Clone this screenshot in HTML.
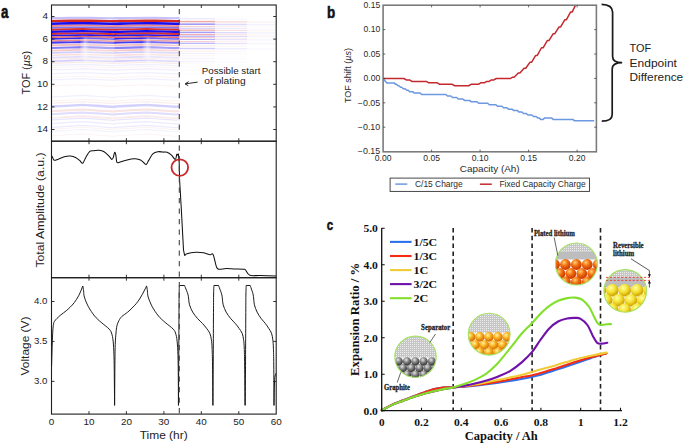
<!DOCTYPE html><html><head><meta charset="utf-8"><style>html,body{margin:0;padding:0;background:#fff;}svg{display:block;}</style></head><body><svg width="685" height="444" viewBox="0 0 685 444"><rect width="685" height="444" fill="#fff"/><defs><clipPath id="clipT"><rect x="51.5" y="5" width="224.7" height="136.2"/></clipPath><filter id="blur1" x="-5%" y="-5%" width="110%" height="110%"><feGaussianBlur stdDeviation="0.45"/></filter><filter id="blur3" x="-50%" y="-50%" width="200%" height="200%"><feGaussianBlur stdDeviation="2.2"/></filter><pattern id="dots" width="2" height="2" patternUnits="userSpaceOnUse"><rect width="2" height="2" fill="#c6c6c6"/><rect width="1" height="1" fill="#ececec"/></pattern><radialGradient id="gball" cx="0.4" cy="0.3" r="0.72"><stop offset="0" stop-color="#e8e8e8"/><stop offset="0.4" stop-color="#8a8a8a"/><stop offset="1" stop-color="#262626"/></radialGradient><radialGradient id="oball" cx="0.38" cy="0.32" r="0.7"><stop offset="0" stop-color="#fff4a0"/><stop offset="0.45" stop-color="#f8b020"/><stop offset="1" stop-color="#d06000"/></radialGradient><radialGradient id="rball" cx="0.38" cy="0.32" r="0.7"><stop offset="0" stop-color="#ffd070"/><stop offset="0.45" stop-color="#f07010"/><stop offset="1" stop-color="#c83000"/></radialGradient><radialGradient id="yball" cx="0.38" cy="0.32" r="0.7"><stop offset="0" stop-color="#ffffa0"/><stop offset="0.5" stop-color="#f4e030"/><stop offset="1" stop-color="#c89800"/></radialGradient></defs>
<g clip-path="url(#clipT)"><g filter="url(#blur1)"><path d="M51.50,18.19 L60.00,18.08 L70.00,17.94 L82.80,17.77 L90.00,17.89 L100.00,18.06 L110.00,18.23 L114.50,18.31 L114.70,18.20 L120.00,18.13 L130.00,17.99 L146.60,17.77 L155.00,17.91 L165.00,18.08 L175.00,18.25 L179.40,18.20" stroke="rgb(197,193,251)" stroke-width="2.20" fill="none"/><path d="M51.50,21.09 L60.00,20.96 L70.00,20.82 L82.80,20.63 L90.00,20.76 L100.00,20.95 L110.00,21.13 L114.50,21.22 L114.70,21.10 L120.00,21.02 L130.00,20.87 L146.60,20.63 L155.00,20.78 L165.00,20.97 L175.00,21.15 L179.40,21.10" stroke="rgb(214,40,36)" stroke-width="2.40" fill="none"/><path d="M51.50,23.69 L60.00,23.55 L70.00,23.39 L82.80,23.19 L90.00,23.33 L100.00,23.54 L110.00,23.74 L114.50,23.83 L114.70,23.70 L120.00,23.61 L130.00,23.45 L146.60,23.19 L155.00,23.36 L165.00,23.56 L175.00,23.76 L179.40,23.70" stroke="rgb(24,8,240)" stroke-width="2.60" fill="none"/><path d="M51.50,25.99 L60.00,25.84 L70.00,25.67 L82.80,25.46 L90.00,25.61 L100.00,25.82 L110.00,26.04 L114.50,26.13 L114.70,26.00 L120.00,25.91 L130.00,25.74 L146.60,25.46 L155.00,25.64 L165.00,25.85 L175.00,26.06 L179.40,26.00" stroke="rgb(232,137,135)" stroke-width="1.80" fill="none"/><path d="M51.50,27.79 L60.00,27.64 L70.00,27.46 L82.80,27.23 L90.00,27.39 L100.00,27.62 L110.00,27.84 L114.50,27.94 L114.70,27.80 L120.00,27.70 L130.00,27.53 L146.60,27.23 L155.00,27.42 L165.00,27.64 L175.00,27.86 L179.40,27.80" stroke="rgb(128,119,247)" stroke-width="1.70" fill="none"/><path d="M51.50,29.69 L60.00,29.53 L70.00,29.34 L82.80,29.10 L90.00,29.27 L100.00,29.51 L110.00,29.74 L114.50,29.85 L114.70,29.70 L120.00,29.60 L130.00,29.41 L146.60,29.10 L155.00,29.30 L165.00,29.53 L175.00,29.77 L179.40,29.70" stroke="rgb(216,51,47)" stroke-width="2.00" fill="none"/><path d="M51.50,31.89 L60.00,31.72 L70.00,31.52 L82.80,31.27 L90.00,31.45 L100.00,31.70 L110.00,31.94 L114.50,32.05 L114.70,31.90 L120.00,31.79 L130.00,31.60 L146.60,31.27 L155.00,31.48 L165.00,31.72 L175.00,31.97 L179.40,31.90" stroke="rgb(24,8,240)" stroke-width="2.30" fill="none"/><path d="M51.50,33.99 L60.00,33.81 L70.00,33.61 L82.80,33.34 L90.00,33.53 L100.00,33.79 L110.00,34.05 L114.50,34.16 L114.70,34.00 L120.00,33.89 L130.00,33.68 L146.60,33.34 L155.00,33.56 L165.00,33.82 L175.00,34.07 L179.40,34.00" stroke="rgb(216,51,47)" stroke-width="1.90" fill="none"/><path d="M51.50,35.69 L60.00,35.50 L70.00,35.29 L82.80,35.02 L90.00,35.21 L100.00,35.48 L110.00,35.75 L114.50,35.87 L114.70,35.70 L120.00,35.58 L130.00,35.37 L146.60,35.02 L155.00,35.24 L165.00,35.51 L175.00,35.77 L179.40,35.70" stroke="rgb(36,20,241)" stroke-width="1.70" fill="none"/><path d="M51.50,37.28 L60.00,37.10 L70.00,36.88 L82.80,36.59 L90.00,36.79 L100.00,37.07 L110.00,37.35 L114.50,37.47 L114.70,37.30 L120.00,37.18 L130.00,36.96 L146.60,36.59 L155.00,36.83 L165.00,37.10 L175.00,37.38 L179.40,37.30" stroke="rgb(224,94,91)" stroke-width="1.50" fill="none"/><path d="M51.50,38.88 L60.00,38.69 L70.00,38.46 L82.80,38.17 L90.00,38.38 L100.00,38.66 L110.00,38.95 L114.50,39.08 L114.70,38.90 L120.00,38.78 L130.00,38.55 L146.60,38.17 L155.00,38.41 L165.00,38.70 L175.00,38.98 L179.40,38.90" stroke="rgb(52,38,242)" stroke-width="1.60" fill="none"/><path d="M51.50,40.98 L60.00,40.78 L70.00,40.54 L82.80,40.24 L90.00,40.46 L100.00,40.75 L110.00,41.05 L114.50,41.19 L114.70,41.00 L120.00,40.87 L130.00,40.64 L146.60,40.24 L155.00,40.49 L165.00,40.79 L175.00,41.08 L179.40,41.00" stroke="rgb(232,137,135)" stroke-width="1.70" fill="none"/><path d="M51.50,42.78 L60.00,42.57 L70.00,42.33 L82.80,42.02 L90.00,42.24 L100.00,42.55 L110.00,42.85 L114.50,42.99 L114.70,42.80 L120.00,42.67 L130.00,42.42 L146.60,42.02 L155.00,42.27 L165.00,42.58 L175.00,42.89 L179.40,42.80" stroke="rgb(70,57,243)" stroke-width="1.90" fill="none"/><path d="M51.50,45.38 L60.00,45.16 L70.00,44.91 L82.80,44.58 L90.00,44.81 L100.00,45.13 L110.00,45.46 L114.50,45.60 L114.70,45.40 L120.00,45.26 L130.00,45.00 L146.60,44.58 L155.00,44.85 L165.00,45.17 L175.00,45.49 L179.40,45.40" stroke="rgb(242,186,185)" stroke-width="1.70" fill="none"/><path d="M51.50,47.98 L60.00,47.75 L70.00,47.48 L82.80,47.14 L90.00,47.38 L100.00,47.72 L110.00,48.06 L114.50,48.21 L114.70,48.00 L120.00,47.86 L130.00,47.59 L146.60,47.14 L155.00,47.42 L165.00,47.76 L175.00,48.09 L179.40,48.00" stroke="rgb(135,127,247)" stroke-width="2.20" fill="none"/><path d="M51.50,50.58 L60.00,50.34 L70.00,50.06 L82.80,49.70 L90.00,49.96 L100.00,50.31 L110.00,50.66 L114.50,50.82 L114.70,50.60 L120.00,50.45 L130.00,50.17 L146.60,49.70 L155.00,50.00 L165.00,50.35 L175.00,50.70 L179.40,50.60" stroke="rgb(245,201,200)" stroke-width="1.70" fill="none"/><path d="M51.50,52.88 L60.00,52.63 L70.00,52.34 L82.80,51.97 L90.00,52.23 L100.00,52.60 L110.00,52.96 L114.50,53.13 L114.70,52.90 L120.00,52.74 L130.00,52.45 L146.60,51.97 L155.00,52.28 L165.00,52.64 L175.00,53.00 L179.40,52.90" stroke="rgb(209,206,252)" stroke-width="1.70" fill="none"/><path d="M51.50,55.28 L60.00,55.02 L70.00,54.72 L82.80,54.34 L90.00,54.61 L100.00,54.99 L110.00,55.37 L114.50,55.54 L114.70,55.30 L120.00,55.14 L130.00,54.84 L146.60,54.34 L155.00,54.65 L165.00,55.03 L175.00,55.41 L179.40,55.30" stroke="rgb(249,223,222)" stroke-width="1.70" fill="none"/><path d="M51.50,57.58 L60.00,57.31 L70.00,57.00 L82.80,56.60 L90.00,56.88 L100.00,57.28 L110.00,57.67 L114.50,57.85 L114.70,57.60 L120.00,57.43 L130.00,57.12 L146.60,56.60 L155.00,56.93 L165.00,57.32 L175.00,57.71 L179.40,57.60" stroke="rgb(223,220,253)" stroke-width="1.70" fill="none"/><path d="M51.50,59.28 L60.00,59.01 L70.00,58.69 L82.80,58.28 L90.00,58.57 L100.00,58.97 L110.00,59.37 L114.50,59.55 L114.70,59.30 L120.00,59.13 L130.00,58.81 L146.60,58.28 L155.00,58.61 L165.00,59.01 L175.00,59.41 L179.40,59.30" stroke="rgb(250,231,231)" stroke-width="1.20" fill="none"/><path d="M51.50,61.28 L60.00,61.00 L70.00,60.67 L82.80,60.25 L90.00,60.55 L100.00,60.96 L110.00,61.37 L114.50,61.56 L114.70,61.30 L120.00,61.12 L130.00,60.79 L146.60,60.25 L155.00,60.59 L165.00,61.00 L175.00,61.41 L179.40,61.30" stroke="rgb(209,206,252)" stroke-width="1.60" fill="none"/><path d="M51.50,63.28 L60.00,62.99 L70.00,62.65 L82.80,62.22 L90.00,62.53 L100.00,62.95 L110.00,63.37 L114.50,63.57 L114.70,63.30 L120.00,63.12 L130.00,62.78 L146.60,62.22 L155.00,62.57 L165.00,63.00 L175.00,63.42 L179.40,63.30" stroke="rgb(251,234,233)" stroke-width="1.30" fill="none"/><path d="M51.50,65.48 L60.00,65.18 L70.00,64.83 L82.80,64.39 L90.00,64.70 L100.00,65.14 L110.00,65.58 L114.50,65.77 L114.70,65.50 L120.00,65.31 L130.00,64.97 L146.60,64.39 L155.00,64.75 L165.00,65.19 L175.00,65.62 L179.40,65.50" stroke="rgb(239,238,254)" stroke-width="1.20" fill="none"/><path d="M51.50,67.58 L60.00,67.27 L70.00,66.92 L82.80,66.46 L90.00,66.78 L100.00,67.23 L110.00,67.68 L114.50,67.88 L114.70,67.60 L120.00,67.41 L130.00,67.05 L146.60,66.46 L155.00,66.83 L165.00,67.28 L175.00,67.72 L179.40,67.60" stroke="rgb(253,242,242)" stroke-width="1.00" fill="none"/><path d="M51.50,69.97 L60.00,69.66 L70.00,69.29 L82.80,68.82 L90.00,69.16 L100.00,69.62 L110.00,70.08 L114.50,70.29 L114.70,70.00 L120.00,69.80 L130.00,69.43 L146.60,68.82 L155.00,69.21 L165.00,69.67 L175.00,70.13 L179.40,70.00" stroke="rgb(239,238,254)" stroke-width="1.20" fill="none"/><path d="M51.50,73.77 L60.00,73.45 L70.00,73.06 L82.80,72.57 L90.00,72.92 L100.00,73.40 L110.00,73.89 L114.50,74.10 L114.70,73.80 L120.00,73.59 L130.00,73.21 L146.60,72.57 L155.00,72.97 L165.00,73.45 L175.00,73.93 L179.40,73.80" stroke="rgb(241,240,254)" stroke-width="1.20" fill="none"/><path d="M51.50,77.47 L60.00,77.13 L70.00,76.73 L82.80,76.22 L90.00,76.58 L100.00,77.08 L110.00,77.59 L114.50,77.82 L114.70,77.50 L120.00,77.28 L130.00,76.88 L146.60,76.22 L155.00,76.64 L165.00,77.14 L175.00,77.64 L179.40,77.50" stroke="rgb(253,245,245)" stroke-width="1.20" fill="none"/><path d="M51.50,79.97 L60.00,79.62 L70.00,79.21 L82.80,78.68 L90.00,79.05 L100.00,79.57 L110.00,80.09 L114.50,80.32 L114.70,80.00 L120.00,79.78 L130.00,79.36 L146.60,78.68 L155.00,79.11 L165.00,79.63 L175.00,80.14 L179.40,80.00" stroke="rgb(241,240,254)" stroke-width="1.20" fill="none"/><path d="M51.50,85.97 L60.00,85.60 L70.00,85.16 L82.80,84.59 L90.00,84.99 L100.00,85.54 L110.00,86.10 L114.50,86.35 L114.70,86.00 L120.00,85.76 L130.00,85.32 L146.60,84.59 L155.00,85.06 L165.00,85.60 L175.00,86.15 L179.40,86.00" stroke="rgb(253,244,244)" stroke-width="1.20" fill="none"/><path d="M51.50,96.97 L60.00,96.55 L70.00,96.06 L82.80,95.44 L90.00,95.88 L100.00,96.49 L110.00,97.11 L114.50,97.39 L114.70,97.00 L120.00,96.74 L130.00,96.25 L146.60,95.44 L155.00,95.95 L165.00,96.56 L175.00,97.17 L179.40,97.00" stroke="rgb(241,240,254)" stroke-width="1.20" fill="none"/><path d="M51.50,100.96 L60.00,100.53 L70.00,100.03 L82.80,99.38 L90.00,99.84 L100.00,100.47 L110.00,101.11 L114.50,101.40 L114.70,100.99 L120.00,100.73 L130.00,100.22 L146.60,99.38 L155.00,99.91 L165.00,100.54 L175.00,101.18 L179.40,101.00" stroke="rgb(253,244,244)" stroke-width="1.20" fill="none"/><path d="M51.50,103.26 L60.00,102.82 L70.00,102.31 L82.80,101.64 L90.00,102.11 L100.00,102.76 L110.00,103.41 L114.50,103.71 L114.70,103.29 L120.00,103.02 L130.00,102.50 L146.60,101.64 L155.00,102.19 L165.00,102.83 L175.00,103.48 L179.40,103.30" stroke="rgb(252,238,237)" stroke-width="1.20" fill="none"/><path d="M51.50,106.56 L60.00,106.11 L70.00,105.58 L82.80,104.90 L90.00,105.38 L100.00,106.05 L110.00,106.72 L114.50,107.02 L114.70,106.59 L120.00,106.31 L130.00,105.78 L146.60,104.90 L155.00,105.46 L165.00,106.12 L175.00,106.79 L179.40,106.60" stroke="rgb(211,208,252)" stroke-width="2.40" fill="none"/><path d="M51.50,111.16 L60.00,110.69 L70.00,110.14 L82.80,109.43 L90.00,109.93 L100.00,110.63 L110.00,111.32 L114.50,111.64 L114.70,111.19 L120.00,110.90 L130.00,110.35 L146.60,109.43 L155.00,110.01 L165.00,110.70 L175.00,111.39 L179.40,111.20" stroke="rgb(250,227,227)" stroke-width="2.00" fill="none"/><path d="M51.50,114.16 L60.00,113.68 L70.00,113.11 L82.80,112.39 L90.00,112.90 L100.00,113.61 L110.00,114.33 L114.50,114.65 L114.70,114.19 L120.00,113.89 L130.00,113.33 L146.60,112.39 L155.00,112.98 L165.00,113.69 L175.00,114.40 L179.40,114.20" stroke="rgb(223,220,253)" stroke-width="2.00" fill="none"/><path d="M51.50,117.96 L60.00,117.46 L70.00,116.88 L82.80,116.13 L90.00,116.66 L100.00,117.40 L110.00,118.13 L114.50,118.46 L114.70,117.99 L120.00,117.68 L130.00,117.10 L146.60,116.13 L155.00,116.75 L165.00,117.47 L175.00,118.20 L179.40,118.00" stroke="rgb(251,234,233)" stroke-width="1.60" fill="none"/><path d="M51.50,119.96 L60.00,119.45 L70.00,118.86 L82.80,118.10 L90.00,118.64 L100.00,119.39 L110.00,120.13 L114.50,120.47 L114.70,119.99 L120.00,119.68 L130.00,119.09 L146.60,118.10 L155.00,118.73 L165.00,119.47 L175.00,120.21 L179.40,120.00" stroke="rgb(232,230,254)" stroke-width="1.20" fill="none"/><path d="M51.50,123.56 L60.00,123.04 L70.00,122.43 L82.80,121.65 L90.00,122.20 L100.00,122.97 L110.00,123.73 L114.50,124.08 L114.70,123.59 L120.00,123.27 L130.00,122.66 L146.60,121.65 L155.00,122.29 L165.00,123.05 L175.00,123.81 L179.40,123.60" stroke="rgb(237,235,254)" stroke-width="1.20" fill="none"/><path d="M51.50,127.36 L60.00,126.82 L70.00,126.20 L82.80,125.40 L90.00,125.96 L100.00,126.75 L110.00,127.54 L114.50,127.89 L114.70,127.39 L120.00,127.06 L130.00,126.44 L146.60,125.40 L155.00,126.05 L165.00,126.84 L175.00,127.62 L179.40,127.40" stroke="rgb(237,235,254)" stroke-width="1.20" fill="none"/><path d="M51.50,129.26 L60.00,128.72 L70.00,128.08 L82.80,127.27 L90.00,127.84 L100.00,128.64 L110.00,129.44 L114.50,129.80 L114.70,129.29 L120.00,128.96 L130.00,128.32 L146.60,127.27 L155.00,127.94 L165.00,128.73 L175.00,129.52 L179.40,129.30" stroke="rgb(253,242,242)" stroke-width="1.00" fill="none"/><path d="M51.50,131.45 L60.00,130.91 L70.00,130.26 L82.80,129.44 L90.00,130.02 L100.00,130.83 L110.00,131.64 L114.50,132.01 L114.70,131.49 L120.00,131.15 L130.00,130.51 L146.60,129.44 L155.00,130.11 L165.00,130.92 L175.00,131.73 L179.40,131.50" stroke="rgb(243,243,254)" stroke-width="1.20" fill="none"/><path d="M51.50,135.95 L60.00,135.39 L70.00,134.72 L82.80,133.87 L90.00,134.48 L100.00,135.31 L110.00,136.15 L114.50,136.52 L114.70,135.99 L120.00,135.64 L130.00,134.98 L146.60,133.87 L155.00,134.57 L165.00,135.40 L175.00,136.23 L179.40,136.00" stroke="rgb(253,246,246)" stroke-width="1.20" fill="none"/><rect x="179.4" y="18.02" width="35.6" height="1.36" fill="rgb(237,235,254)"/><rect x="179.4" y="20.86" width="35.6" height="1.49" fill="rgb(239,169,167)"/><rect x="179.4" y="23.39" width="35.6" height="1.61" fill="rgb(163,156,249)"/><rect x="179.4" y="25.94" width="35.6" height="1.12" fill="rgb(246,208,207)"/><rect x="179.4" y="27.77" width="35.6" height="1.05" fill="rgb(204,201,252)"/><rect x="179.4" y="29.58" width="35.6" height="1.24" fill="rgb(239,173,172)"/><rect x="179.4" y="31.69" width="35.6" height="1.43" fill="rgb(163,156,249)"/><rect x="179.4" y="33.91" width="35.6" height="1.18" fill="rgb(239,173,172)"/><rect x="179.4" y="35.67" width="35.6" height="1.05" fill="rgb(167,161,249)"/><rect x="179.4" y="37.33" width="35.6" height="0.93" fill="rgb(243,190,189)"/><rect x="179.4" y="38.90" width="35.6" height="0.99" fill="rgb(174,168,250)"/><rect x="179.4" y="40.97" width="35.6" height="1.05" fill="rgb(246,208,207)"/><rect x="179.4" y="42.71" width="35.6" height="1.18" fill="rgb(181,176,250)"/><rect x="179.4" y="45.37" width="35.6" height="1.05" fill="rgb(251,233,233)"/><rect x="179.4" y="47.82" width="35.6" height="1.36" fill="rgb(207,204,252)"/><rect x="179.4" y="50.57" width="35.6" height="1.05" fill="rgb(252,238,237)"/><rect x="179.4" y="52.87" width="35.6" height="1.05" fill="rgb(240,239,254)"/><rect x="179.4" y="55.27" width="35.6" height="1.05" fill="rgb(253,245,244)"/><rect x="179.4" y="57.57" width="35.6" height="1.05" fill="rgb(245,244,254)"/><rect x="179.4" y="59.43" width="35.6" height="0.74" fill="rgb(254,247,247)"/><rect x="179.4" y="61.30" width="35.6" height="0.99" fill="rgb(240,239,254)"/><rect x="179.4" y="63.40" width="35.6" height="0.81" fill="rgb(254,248,248)"/><rect x="179.4" y="65.63" width="35.6" height="0.74" fill="rgb(250,249,255)"/><rect x="179.4" y="67.79" width="35.6" height="0.62" fill="rgb(254,251,251)"/><rect x="179.4" y="70.13" width="35.6" height="0.74" fill="rgb(250,249,255)"/><rect x="179.4" y="73.93" width="35.6" height="0.74" fill="rgb(251,250,255)"/><rect x="215.0" y="18.32" width="32.0" height="1.36" fill="rgb(248,248,255)"/><rect x="215.0" y="21.16" width="32.0" height="1.49" fill="rgb(249,223,222)"/><rect x="215.0" y="23.69" width="32.0" height="1.61" fill="rgb(220,218,253)"/><rect x="215.0" y="26.24" width="32.0" height="1.12" fill="rgb(252,237,237)"/><rect x="215.0" y="28.07" width="32.0" height="1.05" fill="rgb(236,235,254)"/><rect x="215.0" y="29.88" width="32.0" height="1.24" fill="rgb(249,224,224)"/><rect x="215.0" y="31.99" width="32.0" height="1.43" fill="rgb(220,218,253)"/><rect x="215.0" y="34.21" width="32.0" height="1.18" fill="rgb(249,224,224)"/><rect x="215.0" y="35.97" width="32.0" height="1.05" fill="rgb(222,220,253)"/><rect x="215.0" y="37.63" width="32.0" height="0.93" fill="rgb(250,231,230)"/><rect x="215.0" y="39.20" width="32.0" height="0.99" fill="rgb(225,222,253)"/><rect x="215.0" y="41.27" width="32.0" height="1.05" fill="rgb(252,237,237)"/><rect x="215.0" y="43.01" width="32.0" height="1.18" fill="rgb(227,225,253)"/><rect x="215.0" y="45.67" width="32.0" height="1.05" fill="rgb(253,247,247)"/><rect x="215.0" y="48.12" width="32.0" height="1.36" fill="rgb(237,236,254)"/><rect x="215.0" y="50.87" width="32.0" height="1.05" fill="rgb(254,249,248)"/><rect x="215.0" y="53.17" width="32.0" height="1.05" fill="rgb(249,249,255)"/><rect x="215.0" y="55.57" width="32.0" height="1.05" fill="rgb(254,251,251)"/><rect x="215.0" y="57.87" width="32.0" height="1.05" fill="rgb(251,251,255)"/><rect x="215.0" y="61.60" width="32.0" height="0.99" fill="rgb(249,249,255)"/><rect x="247.0" y="21.36" width="29.2" height="1.49" fill="rgb(253,244,244)"/><rect x="247.0" y="23.89" width="29.2" height="1.61" fill="rgb(243,243,254)"/><rect x="247.0" y="26.44" width="29.2" height="1.12" fill="rgb(254,249,249)"/><rect x="247.0" y="28.27" width="29.2" height="1.05" fill="rgb(249,248,255)"/><rect x="247.0" y="30.08" width="29.2" height="1.24" fill="rgb(253,245,245)"/><rect x="247.0" y="32.19" width="29.2" height="1.43" fill="rgb(243,243,254)"/><rect x="247.0" y="34.41" width="29.2" height="1.18" fill="rgb(253,245,245)"/><rect x="247.0" y="36.17" width="29.2" height="1.05" fill="rgb(244,243,254)"/><rect x="247.0" y="37.83" width="29.2" height="0.93" fill="rgb(253,247,247)"/><rect x="247.0" y="39.40" width="29.2" height="0.99" fill="rgb(245,244,254)"/><rect x="247.0" y="41.47" width="29.2" height="1.05" fill="rgb(254,249,249)"/><rect x="247.0" y="43.21" width="29.2" height="1.18" fill="rgb(246,245,254)"/><rect x="247.0" y="48.32" width="29.2" height="1.36" fill="rgb(249,249,255)"/></g>
<rect x="84.3" y="37.5" width="30.3" height="26" fill="#fff" opacity="0.28" filter="url(#blur1)"/>
<ellipse cx="84.3" cy="49" rx="2.0" ry="12" fill="#fff" opacity="0.9" filter="url(#blur3)"/>
<rect x="146.8" y="37.5" width="32.5" height="26" fill="#fff" opacity="0.28" filter="url(#blur1)"/>
<ellipse cx="146.8" cy="49" rx="2.0" ry="12" fill="#fff" opacity="0.9" filter="url(#blur3)"/>
</g>
<path d="M51.50,156.00 C51.62,156.10 51.77,155.90 52.20,156.60 C52.63,157.30 53.10,159.77 54.10,160.20 C55.10,160.63 56.33,159.82 58.20,159.20 C60.07,158.58 63.27,157.02 65.30,156.50 C67.33,155.98 68.70,155.95 70.40,156.10 C72.10,156.25 73.97,156.68 75.50,157.40 C77.03,158.12 78.40,159.42 79.60,160.40 C80.80,161.38 81.67,163.80 82.70,163.30 C83.73,162.80 84.62,159.38 85.80,157.40 C86.98,155.42 88.45,152.52 89.80,151.40 C91.15,150.28 92.37,150.90 93.90,150.70 C95.43,150.50 97.30,150.03 99.00,150.20 C100.70,150.37 102.40,150.68 104.10,151.70 C105.80,152.72 107.92,155.02 109.20,156.30 C110.48,157.58 111.12,159.22 111.80,159.40 C112.48,159.58 112.83,158.58 113.30,157.40 C113.77,156.22 114.17,152.65 114.60,152.30 C115.03,151.95 115.52,153.63 115.90,155.30 C116.28,156.97 116.20,161.18 116.90,162.30 C117.60,163.42 118.72,162.32 120.10,162.00 C121.48,161.68 123.50,160.87 125.20,160.40 C126.90,159.93 128.60,159.48 130.30,159.20 C132.00,158.92 133.70,158.58 135.40,158.70 C137.10,158.82 139.13,159.27 140.50,159.90 C141.87,160.53 142.65,161.73 143.60,162.50 C144.55,163.27 145.35,164.85 146.20,164.50 C147.05,164.15 147.60,162.18 148.70,160.40 C149.80,158.62 151.27,155.25 152.80,153.80 C154.33,152.35 156.20,151.98 157.90,151.70 C159.60,151.42 161.47,152.00 163.00,152.10 C164.53,152.20 165.73,151.85 167.10,152.30 C168.47,152.75 169.83,153.62 171.20,154.80 C172.57,155.98 174.37,159.48 175.30,159.40 C176.23,159.32 176.38,154.98 176.80,154.30 C177.22,153.62 177.63,155.13 177.80,155.30" stroke="#111" stroke-width="1.05" fill="none"/>
<path d="M177.80,155.30 L178.40,154.00 L179.20,163.00 L179.60,180.00 L181.20,207.00 L183.50,250.00 L184.70,255.60" stroke="#111" stroke-width="1.05" fill="none" stroke-linejoin="round"/>
<path d="M184.70,255.60 C185.07,255.28 185.07,254.27 186.90,253.70 C188.73,253.13 192.90,252.35 195.70,252.20 C198.50,252.05 201.30,252.37 203.70,252.80 C206.10,253.23 208.70,254.65 210.10,254.80 C211.50,254.95 211.50,253.48 212.10,253.70 C212.70,253.92 212.95,253.83 213.70,256.10 C214.45,258.37 215.72,265.12 216.60,267.30 C217.48,269.48 217.40,268.98 219.00,269.20 C220.60,269.42 223.67,268.65 226.20,268.60 C228.73,268.55 231.25,268.80 234.20,268.90 C237.15,269.00 242.02,269.02 243.90,269.20 C245.78,269.38 244.52,268.98 245.50,270.00 C246.48,271.02 247.40,274.38 249.80,275.30 C252.20,276.22 255.50,275.37 259.90,275.50 C264.30,275.63 273.48,276.00 276.20,276.10" stroke="#111" stroke-width="1.05" fill="none"/>
<path d="M51.60,366.00 C51.70,362.50 52.00,350.83 52.20,345.00 C52.40,339.17 52.58,334.47 52.80,331.00 C53.02,327.53 53.22,325.82 53.50,324.20 C53.78,322.58 53.92,322.27 54.50,321.30 C55.08,320.33 55.95,319.47 57.00,318.40 C58.05,317.33 59.27,316.17 60.80,314.90 C62.33,313.63 64.67,312.07 66.20,310.80 C67.73,309.53 68.65,308.67 70.00,307.30 C71.35,305.93 72.82,304.60 74.30,302.60 C75.78,300.60 77.48,298.07 78.90,295.30 C80.32,292.53 82.15,287.55 82.80,286.00 M82.80,286.00 C82.93,286.80 83.33,288.95 83.60,290.80 C83.87,292.65 83.62,294.48 84.40,297.10 C85.18,299.72 86.60,303.35 88.30,306.50 C90.00,309.65 92.45,313.35 94.60,316.00 C96.75,318.65 98.75,320.20 101.20,322.40 C103.65,324.60 107.50,327.17 109.30,329.20 C111.10,331.23 111.32,332.13 112.00,334.60 C112.68,337.07 113.05,339.72 113.40,344.00 C113.75,348.28 113.93,353.47 114.10,360.30 C114.27,367.13 114.32,377.48 114.40,385.00 C114.48,392.52 114.57,402.00 114.60,405.40 M114.60,405.40 C114.66,397.83 114.83,370.40 114.95,360.00 C115.07,349.60 115.14,347.33 115.30,343.00 C115.46,338.67 115.68,336.58 115.90,334.00 C116.12,331.42 116.33,329.20 116.60,327.50 C116.87,325.80 117.08,325.00 117.50,323.80 C117.92,322.60 118.40,321.50 119.10,320.30 C119.80,319.10 120.28,317.95 121.70,316.60 C123.12,315.25 125.87,313.63 127.60,312.20 C129.33,310.77 130.63,309.47 132.10,308.00 C133.57,306.53 135.15,304.90 136.40,303.40 C137.65,301.90 138.63,300.47 139.60,299.00 C140.57,297.53 141.37,296.10 142.20,294.60 C143.03,293.10 143.87,291.45 144.60,290.00 C145.33,288.55 146.27,286.58 146.60,285.90 M146.60,285.90 C146.73,286.72 147.14,288.93 147.41,290.80 C147.67,292.67 147.42,294.48 148.21,297.10 C149.00,299.72 150.42,303.35 152.13,306.50 C153.85,309.65 156.31,313.35 158.47,316.00 C160.64,318.65 162.65,320.20 165.12,322.40 C167.58,324.60 171.46,327.17 173.27,329.20 C175.08,331.23 175.30,332.13 175.98,334.60 C176.67,337.07 177.04,339.72 177.39,344.00 C177.75,348.28 177.94,353.47 178.10,360.30 C178.26,367.13 178.30,377.48 178.35,385.00 C178.40,392.52 178.39,402.00 178.40,405.40 M178.50,405.40 C178.54,397.83 178.68,374.23 178.75,360.00 C178.82,345.77 178.89,330.83 178.95,320.00 C179.01,309.17 179.02,300.75 179.10,295.00 C179.18,289.25 179.35,287.08 179.40,285.50 M179.40,285.50 L184.60,285.50 M184.60,285.50 C184.73,285.87 184.84,286.25 185.39,287.70 C185.94,289.15 187.35,292.30 187.90,294.20 C188.45,296.10 188.42,297.33 188.69,299.10 C188.96,300.87 188.84,302.63 189.51,304.80 C190.17,306.97 191.34,309.80 192.69,312.10 C194.04,314.40 195.96,316.70 197.60,318.60 C199.24,320.50 201.02,321.88 202.51,323.50 C203.99,325.12 205.29,326.68 206.51,328.30 C207.73,329.92 209.00,331.30 209.81,333.20 C210.62,335.10 211.01,337.23 211.39,339.70 C211.77,342.17 211.91,343.78 212.09,348.00 C212.28,352.22 212.40,355.43 212.52,365.00 C212.64,374.57 212.75,398.67 212.80,405.40 M213.00,405.40 C213.04,397.83 213.18,374.23 213.25,360.00 C213.32,345.77 213.39,330.83 213.45,320.00 C213.51,309.17 213.52,300.75 213.60,295.00 C213.68,289.25 213.85,287.08 213.90,285.50 M213.90,285.50 L218.60,285.50 M218.60,285.50 C218.72,285.87 218.82,286.25 219.34,287.70 C219.85,289.15 221.16,292.30 221.68,294.20 C222.19,296.10 222.16,297.33 222.41,299.10 C222.66,300.87 222.55,302.63 223.18,304.80 C223.80,306.97 224.89,309.80 226.15,312.10 C227.41,314.40 229.20,316.70 230.72,318.60 C232.25,320.50 233.92,321.88 235.30,323.50 C236.69,325.12 237.90,326.68 239.04,328.30 C240.17,329.92 241.35,331.30 242.11,333.20 C242.87,335.10 243.23,337.23 243.59,339.70 C243.94,342.17 244.07,343.78 244.24,348.00 C244.42,352.22 244.53,355.43 244.64,365.00 C244.75,374.57 244.86,398.67 244.90,405.40 M245.30,405.40 C245.34,397.83 245.48,374.23 245.55,360.00 C245.62,345.77 245.69,330.83 245.75,320.00 C245.81,309.17 245.82,300.75 245.90,295.00 C245.98,289.25 246.15,287.08 246.20,285.50 M246.20,285.50 L250.30,285.50 M250.30,285.50 C250.41,285.87 250.50,286.25 250.96,287.70 C251.43,289.15 252.61,292.30 253.07,294.20 C253.54,296.10 253.51,297.33 253.74,299.10 C253.96,300.87 253.86,302.63 254.42,304.80 C254.98,306.97 255.97,309.80 257.10,312.10 C258.24,314.40 259.85,316.70 261.23,318.60 C262.60,320.50 264.10,321.88 265.35,323.50 C266.60,325.12 267.69,326.68 268.71,328.30 C269.74,329.92 270.80,331.30 271.49,333.20 C272.17,335.10 272.50,337.23 272.81,339.70 C273.13,342.17 273.25,343.78 273.41,348.00 C273.57,352.22 273.66,355.43 273.76,365.00 C273.86,374.57 273.96,398.67 274.00,405.40 M274.00,405.40 C274.07,402.00 274.23,389.88 274.40,385.00 C274.57,380.12 274.70,378.07 275.00,376.10 C275.30,374.13 276.00,373.68 276.20,373.20" stroke="#111" stroke-width="0.95" fill="none" stroke-linejoin="round"/>
<circle cx="179.8" cy="167.6" r="8.3" stroke="#c8282a" stroke-width="1.8" fill="none"/>
<line x1="179.3" y1="5" x2="179.3" y2="413.9" stroke="#444" stroke-width="1.1" stroke-dasharray="5.3,5.2" stroke-dashoffset="6.6"/>
<rect x="51.5" y="5.0" width="224.7" height="136.2" fill="none" stroke="#1e1e1e" stroke-width="1.1"/>
<rect x="51.5" y="141.2" width="224.7" height="136.5" fill="none" stroke="#1e1e1e" stroke-width="1.1"/>
<rect x="51.5" y="277.7" width="224.7" height="136.4" fill="none" stroke="#1e1e1e" stroke-width="1.1"/>
<path d="M89.0,5.0 v3 M89.0,141.2 v-3 M89.0,141.2 v3 M89.0,277.7 v-3 M89.0,277.7 v3 M89.0,414.1 v-3 M126.4,5.0 v3 M126.4,141.2 v-3 M126.4,141.2 v3 M126.4,277.7 v-3 M126.4,277.7 v3 M126.4,414.1 v-3 M163.9,5.0 v3 M163.9,141.2 v-3 M163.9,141.2 v3 M163.9,277.7 v-3 M163.9,277.7 v3 M163.9,414.1 v-3 M201.3,5.0 v3 M201.3,141.2 v-3 M201.3,141.2 v3 M201.3,277.7 v-3 M201.3,277.7 v3 M201.3,414.1 v-3 M238.8,5.0 v3 M238.8,141.2 v-3 M238.8,141.2 v3 M238.8,277.7 v-3 M238.8,277.7 v3 M238.8,414.1 v-3 M51.5,16.5 h3 M276.2,16.5 h-3 M51.5,39.1 h3 M276.2,39.1 h-3 M51.5,61.7 h3 M276.2,61.7 h-3 M51.5,84.3 h3 M276.2,84.3 h-3 M51.5,106.9 h3 M276.2,106.9 h-3 M51.5,129.5 h3 M276.2,129.5 h-3 M51.5,381.4 h3 M276.2,381.4 h-3 M51.5,341.4 h3 M276.2,341.4 h-3 M51.5,301.5 h3 M276.2,301.5 h-3" stroke="#1e1e1e" stroke-width="0.9" fill="none"/>
<text x="47.9" y="19.2" font-size="8.9" text-anchor="end" fill="#222" font-family='"Liberation Sans", sans-serif' font-weight="normal" textLength="5.5" lengthAdjust="spacingAndGlyphs" >4</text>
<text x="47.9" y="41.800000000000004" font-size="8.9" text-anchor="end" fill="#222" font-family='"Liberation Sans", sans-serif' font-weight="normal" textLength="5.5" lengthAdjust="spacingAndGlyphs" >6</text>
<text x="47.9" y="64.4" font-size="8.9" text-anchor="end" fill="#222" font-family='"Liberation Sans", sans-serif' font-weight="normal" textLength="5.5" lengthAdjust="spacingAndGlyphs" >8</text>
<text x="47.9" y="87.00000000000001" font-size="8.9" text-anchor="end" fill="#222" font-family='"Liberation Sans", sans-serif' font-weight="normal" textLength="11.0" lengthAdjust="spacingAndGlyphs" >10</text>
<text x="47.9" y="109.60000000000001" font-size="8.9" text-anchor="end" fill="#222" font-family='"Liberation Sans", sans-serif' font-weight="normal" textLength="11.0" lengthAdjust="spacingAndGlyphs" >12</text>
<text x="47.9" y="132.2" font-size="8.9" text-anchor="end" fill="#222" font-family='"Liberation Sans", sans-serif' font-weight="normal" textLength="11.0" lengthAdjust="spacingAndGlyphs" >14</text>
<text x="47.4" y="384.29999999999995" font-size="8.9" text-anchor="end" fill="#222" font-family='"Liberation Sans", sans-serif' font-weight="normal" textLength="13.4" lengthAdjust="spacingAndGlyphs" >3.0</text>
<text x="47.4" y="344.34999999999997" font-size="8.9" text-anchor="end" fill="#222" font-family='"Liberation Sans", sans-serif' font-weight="normal" textLength="13.4" lengthAdjust="spacingAndGlyphs" >3.5</text>
<text x="47.4" y="304.4" font-size="8.9" text-anchor="end" fill="#222" font-family='"Liberation Sans", sans-serif' font-weight="normal" textLength="13.4" lengthAdjust="spacingAndGlyphs" >4.0</text>
<text x="51.5" y="424.7" font-size="8.9" text-anchor="middle" fill="#222" font-family='"Liberation Sans", sans-serif' font-weight="normal" textLength="5.5" lengthAdjust="spacingAndGlyphs" >0</text>
<text x="88.95" y="424.7" font-size="8.9" text-anchor="middle" fill="#222" font-family='"Liberation Sans", sans-serif' font-weight="normal" textLength="11.0" lengthAdjust="spacingAndGlyphs" >10</text>
<text x="126.4" y="424.7" font-size="8.9" text-anchor="middle" fill="#222" font-family='"Liberation Sans", sans-serif' font-weight="normal" textLength="11.0" lengthAdjust="spacingAndGlyphs" >20</text>
<text x="163.85000000000002" y="424.7" font-size="8.9" text-anchor="middle" fill="#222" font-family='"Liberation Sans", sans-serif' font-weight="normal" textLength="11.0" lengthAdjust="spacingAndGlyphs" >30</text>
<text x="201.3" y="424.7" font-size="8.9" text-anchor="middle" fill="#222" font-family='"Liberation Sans", sans-serif' font-weight="normal" textLength="11.0" lengthAdjust="spacingAndGlyphs" >40</text>
<text x="238.75" y="424.7" font-size="8.9" text-anchor="middle" fill="#222" font-family='"Liberation Sans", sans-serif' font-weight="normal" textLength="11.0" lengthAdjust="spacingAndGlyphs" >50</text>
<text x="276.20000000000005" y="424.7" font-size="8.9" text-anchor="middle" fill="#222" font-family='"Liberation Sans", sans-serif' font-weight="normal" textLength="11.0" lengthAdjust="spacingAndGlyphs" >60</text>
<text x="163.7" y="438.6" font-size="10.8" text-anchor="middle" fill="#222" font-family='"Liberation Sans", sans-serif' font-weight="normal" textLength="48" lengthAdjust="spacingAndGlyphs" >Time (hr)</text>
<text x="0" y="0" transform="translate(30.2,72.7) rotate(-90)" font-size="11.0" text-anchor="middle" fill="#222" font-family='"Liberation Sans", sans-serif' font-weight="normal" textLength="43.4" lengthAdjust="spacingAndGlyphs">TOF (<tspan font-style="italic">µs</tspan>)</text>
<text x="0" y="0" transform="translate(44.4,210.0) rotate(-90)" font-size="10.8" text-anchor="middle" fill="#222" font-family='"Liberation Sans", sans-serif' font-weight="normal" textLength="115.2" lengthAdjust="spacingAndGlyphs">Total Amplitude (a.u.)</text>
<text x="0" y="0" transform="translate(28.9,346.0) rotate(-90)" font-size="11.0" text-anchor="middle" fill="#222" font-family='"Liberation Sans", sans-serif' font-weight="normal" textLength="58.9" lengthAdjust="spacingAndGlyphs">Voltage (V)</text>
<text x="201.7" y="74.4" font-size="9.0" text-anchor="start" fill="#222" font-family='"Liberation Sans", sans-serif' font-weight="normal" textLength="58.7" lengthAdjust="spacingAndGlyphs" >Possible start</text>
<text x="204.3" y="84.3" font-size="9.0" text-anchor="start" fill="#222" font-family='"Liberation Sans", sans-serif' font-weight="normal" textLength="41.4" lengthAdjust="spacingAndGlyphs" >of plating</text>
<path d="M197.7,82.1 L185.2,83.9 M188.6,81.6 L185.2,83.9 L188.2,85.7" stroke="#111" stroke-width="0.9" fill="none"/>
<text x="1.0" y="18.0" font-size="17.5" text-anchor="start" fill="#111" font-family='"Liberation Sans", sans-serif' font-weight="bold" textLength="7.4" lengthAdjust="spacingAndGlyphs" stroke="#111" stroke-width="0.6">a</text>
<path d="M383.40,78.50 L383.40,78.50 L384.30,79.96 L384.30,79.96 L385.50,81.42 L385.50,81.42 L386.90,82.88 L394.10,82.88 L395.70,84.34 L396.50,84.34 L398.10,85.80 L398.90,85.80 L400.50,87.26 L401.70,87.26 L403.30,88.72 L405.10,88.72 L406.70,90.18 L408.10,90.18 L409.70,91.64 L412.70,91.64 L414.30,93.10 L420.10,93.10 L421.70,94.56 L445.90,94.56 L447.50,96.02 L450.90,96.02 L452.50,97.48 L456.70,97.48 L458.30,98.94 L462.90,98.94 L464.50,100.40 L469.70,100.40 L471.30,101.86 L477.10,101.86 L478.70,103.32 L487.70,103.32 L489.30,104.78 L495.90,104.78 L497.50,106.24 L501.90,106.24 L503.50,107.70 L506.90,107.70 L508.50,109.16 L512.10,109.16 L513.70,110.62 L517.50,110.62 L519.10,112.08 L521.90,112.08 L523.50,113.54 L526.30,113.54 L527.90,115.00 L531.90,115.00 L533.50,116.46 L536.10,116.46 L537.70,117.92 L539.10,117.92 L540.70,119.38 L543.10,119.38 L544.70,117.92 L551.50,117.92 L553.10,119.38 L572.90,119.38 L574.50,120.84 L594.20,120.84" stroke="#6c98e0" stroke-width="1.5" fill="none" stroke-linejoin="round"/>
<path d="M383.20,78.50 L403.90,78.50 L406.30,79.95 L409.50,79.95 L411.90,81.40 L426.30,81.40 L428.70,82.85 L437.30,82.85 L439.70,84.30 L452.30,84.30 L454.70,85.75 L468.70,85.75 L471.10,84.30 L478.30,84.30 L480.70,82.85 L484.30,82.85 L486.70,81.40 L489.10,81.40 L491.50,79.95 L493.90,79.95 L496.30,78.50 L510.60,78.50 L512.50,77.21 L514.10,77.21 L518.30,73.03 L519.90,73.03 L524.10,68.22 L525.70,68.22 L529.90,62.35 L531.50,62.35 L535.70,55.47 L537.30,55.47 L541.50,47.76 L543.10,47.76 L547.30,40.54 L548.90,40.54 L553.10,33.82 L554.70,33.82 L558.90,27.03 L560.50,27.03 L564.70,19.81 L566.30,19.81 L570.50,12.10 L572.10,12.10 L575.50,5.20" stroke="#c4282e" stroke-width="1.5" fill="none" stroke-linejoin="round"/>
<rect x="383.1" y="5.2" width="213.3" height="146.6" fill="none" stroke="#7c7c7c" stroke-width="1.6"/>
<path d="M431.6,5.2 v2.2 M431.6,151.8 v-2.2 M480.1,5.2 v2.2 M480.1,151.8 v-2.2 M528.6,5.2 v2.2 M528.6,151.8 v-2.2 M577.1,5.2 v2.2 M577.1,151.8 v-2.2 M383.1,127.2 h2.2 M596.4,127.2 h-2.2 M383.1,102.8 h2.2 M596.4,102.8 h-2.2 M383.1,78.4 h2.2 M596.4,78.4 h-2.2 M383.1,54.0 h2.2 M596.4,54.0 h-2.2 M383.1,29.6 h2.2 M596.4,29.6 h-2.2" stroke="#444" stroke-width="0.8" fill="none"/>
<text x="380.2" y="8.000000000000004" font-size="8.4" text-anchor="end" fill="#2a2a2a" font-family='"Liberation Sans", sans-serif' font-weight="normal" textLength="16.7" lengthAdjust="spacingAndGlyphs" >0.15</text>
<text x="380.2" y="32.400000000000006" font-size="8.4" text-anchor="end" fill="#2a2a2a" font-family='"Liberation Sans", sans-serif' font-weight="normal" textLength="16.7" lengthAdjust="spacingAndGlyphs" >0.10</text>
<text x="380.2" y="56.800000000000004" font-size="8.4" text-anchor="end" fill="#2a2a2a" font-family='"Liberation Sans", sans-serif' font-weight="normal" textLength="16.7" lengthAdjust="spacingAndGlyphs" >0.05</text>
<text x="380.2" y="81.2" font-size="8.4" text-anchor="end" fill="#2a2a2a" font-family='"Liberation Sans", sans-serif' font-weight="normal" textLength="16.7" lengthAdjust="spacingAndGlyphs" >0.00</text>
<text x="380.2" y="105.60000000000001" font-size="8.4" text-anchor="end" fill="#2a2a2a" font-family='"Liberation Sans", sans-serif' font-weight="normal" textLength="22.4" lengthAdjust="spacingAndGlyphs" >−0.05</text>
<text x="380.2" y="130.0" font-size="8.4" text-anchor="end" fill="#2a2a2a" font-family='"Liberation Sans", sans-serif' font-weight="normal" textLength="22.4" lengthAdjust="spacingAndGlyphs" >−0.10</text>
<text x="380.2" y="154.40000000000003" font-size="8.4" text-anchor="end" fill="#2a2a2a" font-family='"Liberation Sans", sans-serif' font-weight="normal" textLength="22.4" lengthAdjust="spacingAndGlyphs" >−0.15</text>
<text x="383.1" y="160.6" font-size="8.4" text-anchor="middle" fill="#2a2a2a" font-family='"Liberation Sans", sans-serif' font-weight="normal" textLength="16.7" lengthAdjust="spacingAndGlyphs" >0.00</text>
<text x="431.6" y="160.6" font-size="8.4" text-anchor="middle" fill="#2a2a2a" font-family='"Liberation Sans", sans-serif' font-weight="normal" textLength="16.7" lengthAdjust="spacingAndGlyphs" >0.05</text>
<text x="480.1" y="160.6" font-size="8.4" text-anchor="middle" fill="#2a2a2a" font-family='"Liberation Sans", sans-serif' font-weight="normal" textLength="16.7" lengthAdjust="spacingAndGlyphs" >0.10</text>
<text x="528.6" y="160.6" font-size="8.4" text-anchor="middle" fill="#2a2a2a" font-family='"Liberation Sans", sans-serif' font-weight="normal" textLength="16.7" lengthAdjust="spacingAndGlyphs" >0.15</text>
<text x="577.1" y="160.6" font-size="8.4" text-anchor="middle" fill="#2a2a2a" font-family='"Liberation Sans", sans-serif' font-weight="normal" textLength="16.7" lengthAdjust="spacingAndGlyphs" >0.20</text>
<text x="489.7" y="172.3" font-size="9.8" text-anchor="middle" fill="#2a2a2a" font-family='"Liberation Sans", sans-serif' font-weight="normal" textLength="59.9" lengthAdjust="spacingAndGlyphs" >Capacity (Ah)</text>
<text x="0" y="0" transform="translate(351.0,75.5) rotate(-90)" font-size="8.6" text-anchor="middle" fill="#2a2a2a" font-family='"Liberation Sans", sans-serif' font-weight="normal" textLength="55" lengthAdjust="spacingAndGlyphs">TOF shift (<tspan font-style="italic">µs</tspan>)</text>
<rect x="390.1" y="178.1" width="199.4" height="13.3" fill="#fff" stroke="#333" stroke-width="0.9"/>
<path d="M395.3,184.1 H407.3" stroke="#6c98e0" stroke-width="1.5"/>
<path d="M479.9,184.2 H491.8" stroke="#c4282e" stroke-width="1.5"/>
<text x="415.0" y="187.2" font-size="8.5" text-anchor="start" fill="#2a2a2a" font-family='"Liberation Sans", sans-serif' font-weight="normal" textLength="47.7" lengthAdjust="spacingAndGlyphs" >C/15 Charge</text>
<text x="499.4" y="187.2" font-size="8.5" text-anchor="start" fill="#2a2a2a" font-family='"Liberation Sans", sans-serif' font-weight="normal" textLength="86.3" lengthAdjust="spacingAndGlyphs" >Fixed Capacity Charge</text>
<path d="M601.6,4.3 C607.5,4.5 612.6,6.5 612.6,12 L612.6,56.5 C612.6,60.8 615.5,62.6 622.2,62.6 C615.5,62.6 612.2,64.6 612.2,69 L612.2,114.5 C612.2,119.5 607.5,121.2 601.8,121.2" stroke="#1a1a1a" stroke-width="1.7" fill="none"/>
<text x="629.6" y="51.9" font-size="11.2" text-anchor="start" fill="#222" font-family='"Liberation Sans", sans-serif' font-weight="normal" textLength="21.6" lengthAdjust="spacingAndGlyphs" >TOF</text>
<text x="629.6" y="67.2" font-size="11.2" text-anchor="start" fill="#222" font-family='"Liberation Sans", sans-serif' font-weight="normal" textLength="47.3" lengthAdjust="spacingAndGlyphs" >Endpoint</text>
<text x="629.6" y="81.1" font-size="11.2" text-anchor="start" fill="#222" font-family='"Liberation Sans", sans-serif' font-weight="normal" textLength="53.6" lengthAdjust="spacingAndGlyphs" >Difference</text>
<text x="327.0" y="17.9" font-size="17" text-anchor="start" fill="#111" font-family='"Liberation Sans", sans-serif' font-weight="bold" textLength="8.2" lengthAdjust="spacingAndGlyphs" stroke="#111" stroke-width="0.6">b</text>
<line x1="453.2" y1="228" x2="453.2" y2="410.7" stroke="#222" stroke-width="1.6" stroke-dasharray="4.5,3.3"/>
<line x1="532.1" y1="228" x2="532.1" y2="410.7" stroke="#222" stroke-width="1.6" stroke-dasharray="4.5,3.3"/>
<line x1="600.5" y1="228" x2="600.5" y2="410.7" stroke="#222" stroke-width="1.6" stroke-dasharray="4.5,3.3"/>
<clipPath id="bc1"><circle cx="415.5" cy="356.8" r="20.7"/></clipPath>
<g clip-path="url(#bc1)"><rect x="394.8" y="336.1" width="41.4" height="41.4" fill="#fff"/><rect x="394.8" y="336.1" width="41.4" height="21.50" fill="url(#dots)"/><circle cx="390.40" cy="361.50" r="4.2" fill="url(#gball)"/><circle cx="398.70" cy="361.50" r="4.2" fill="url(#gball)"/><circle cx="407.00" cy="361.50" r="4.2" fill="url(#gball)"/><circle cx="415.30" cy="361.50" r="4.2" fill="url(#gball)"/><circle cx="423.60" cy="361.50" r="4.2" fill="url(#gball)"/><circle cx="431.90" cy="361.50" r="4.2" fill="url(#gball)"/><circle cx="440.20" cy="361.50" r="4.2" fill="url(#gball)"/><circle cx="448.50" cy="361.50" r="4.2" fill="url(#gball)"/><circle cx="394.55" cy="368.20" r="4.2" fill="url(#gball)"/><circle cx="402.85" cy="368.20" r="4.2" fill="url(#gball)"/><circle cx="411.15" cy="368.20" r="4.2" fill="url(#gball)"/><circle cx="419.45" cy="368.20" r="4.2" fill="url(#gball)"/><circle cx="427.75" cy="368.20" r="4.2" fill="url(#gball)"/><circle cx="436.05" cy="368.20" r="4.2" fill="url(#gball)"/><circle cx="444.35" cy="368.20" r="4.2" fill="url(#gball)"/><circle cx="452.65" cy="368.20" r="4.2" fill="url(#gball)"/><circle cx="390.40" cy="374.60" r="4.2" fill="url(#gball)"/><circle cx="398.70" cy="374.60" r="4.2" fill="url(#gball)"/><circle cx="407.00" cy="374.60" r="4.2" fill="url(#gball)"/><circle cx="415.30" cy="374.60" r="4.2" fill="url(#gball)"/><circle cx="423.60" cy="374.60" r="4.2" fill="url(#gball)"/><circle cx="431.90" cy="374.60" r="4.2" fill="url(#gball)"/><circle cx="440.20" cy="374.60" r="4.2" fill="url(#gball)"/><circle cx="448.50" cy="374.60" r="4.2" fill="url(#gball)"/></g>
<circle cx="415.5" cy="356.8" r="20.7" fill="none" stroke="#a2e264" stroke-width="1.1"/>
<clipPath id="bc2"><circle cx="489.2" cy="334.2" r="20.9"/></clipPath>
<g clip-path="url(#bc2)"><rect x="468.3" y="313.3" width="41.8" height="41.8" fill="#fff"/><rect x="468.3" y="313.3" width="41.8" height="19.50" fill="url(#dots)"/><circle cx="461.60" cy="336.90" r="4.8" fill="url(#oball)"/><circle cx="470.70" cy="336.90" r="4.8" fill="url(#oball)"/><circle cx="479.80" cy="336.90" r="4.8" fill="url(#oball)"/><circle cx="488.90" cy="336.90" r="4.8" fill="url(#oball)"/><circle cx="498.00" cy="336.90" r="4.8" fill="url(#oball)"/><circle cx="507.10" cy="336.90" r="4.8" fill="url(#oball)"/><circle cx="516.20" cy="336.90" r="4.8" fill="url(#oball)"/><circle cx="525.30" cy="336.90" r="4.8" fill="url(#oball)"/><circle cx="466.15" cy="345.00" r="4.8" fill="url(#oball)"/><circle cx="475.25" cy="345.00" r="4.8" fill="url(#oball)"/><circle cx="484.35" cy="345.00" r="4.8" fill="url(#oball)"/><circle cx="493.45" cy="345.00" r="4.8" fill="url(#oball)"/><circle cx="502.55" cy="345.00" r="4.8" fill="url(#oball)"/><circle cx="511.65" cy="345.00" r="4.8" fill="url(#oball)"/><circle cx="520.75" cy="345.00" r="4.8" fill="url(#oball)"/><circle cx="529.85" cy="345.00" r="4.8" fill="url(#oball)"/><circle cx="461.60" cy="352.40" r="4.8" fill="url(#oball)"/><circle cx="470.70" cy="352.40" r="4.8" fill="url(#oball)"/><circle cx="479.80" cy="352.40" r="4.8" fill="url(#oball)"/><circle cx="488.90" cy="352.40" r="4.8" fill="url(#oball)"/><circle cx="498.00" cy="352.40" r="4.8" fill="url(#oball)"/><circle cx="507.10" cy="352.40" r="4.8" fill="url(#oball)"/><circle cx="516.20" cy="352.40" r="4.8" fill="url(#oball)"/><circle cx="525.30" cy="352.40" r="4.8" fill="url(#oball)"/></g>
<circle cx="489.2" cy="334.2" r="20.9" fill="none" stroke="#a2e264" stroke-width="1.1"/>
<clipPath id="bc3"><circle cx="576.4" cy="264.0" r="21.0"/></clipPath>
<g clip-path="url(#bc3)"><rect x="555.4" y="243.0" width="42.0" height="42.0" fill="#fff"/><rect x="555.4" y="243.0" width="42.0" height="8.40" fill="url(#dots)"/><rect x="555.4" y="251.4" width="42.0" height="8.10" fill="#bdbdbd"/><circle cx="554.50" cy="264.50" r="5.4" fill="url(#rball)"/><circle cx="565.40" cy="264.50" r="5.4" fill="url(#rball)"/><circle cx="576.30" cy="264.50" r="5.4" fill="url(#rball)"/><circle cx="587.20" cy="264.50" r="5.4" fill="url(#rball)"/><circle cx="598.10" cy="264.50" r="5.4" fill="url(#rball)"/><circle cx="609.00" cy="264.50" r="5.4" fill="url(#rball)"/><circle cx="619.90" cy="264.50" r="5.4" fill="url(#rball)"/><circle cx="630.80" cy="264.50" r="5.4" fill="url(#rball)"/><circle cx="559.95" cy="273.50" r="5.4" fill="url(#rball)"/><circle cx="570.85" cy="273.50" r="5.4" fill="url(#rball)"/><circle cx="581.75" cy="273.50" r="5.4" fill="url(#rball)"/><circle cx="592.65" cy="273.50" r="5.4" fill="url(#rball)"/><circle cx="603.55" cy="273.50" r="5.4" fill="url(#rball)"/><circle cx="614.45" cy="273.50" r="5.4" fill="url(#rball)"/><circle cx="625.35" cy="273.50" r="5.4" fill="url(#rball)"/><circle cx="636.25" cy="273.50" r="5.4" fill="url(#rball)"/><circle cx="554.50" cy="282.00" r="5.4" fill="url(#rball)"/><circle cx="565.40" cy="282.00" r="5.4" fill="url(#rball)"/><circle cx="576.30" cy="282.00" r="5.4" fill="url(#rball)"/><circle cx="587.20" cy="282.00" r="5.4" fill="url(#rball)"/><circle cx="598.10" cy="282.00" r="5.4" fill="url(#rball)"/><circle cx="609.00" cy="282.00" r="5.4" fill="url(#rball)"/><circle cx="619.90" cy="282.00" r="5.4" fill="url(#rball)"/><circle cx="630.80" cy="282.00" r="5.4" fill="url(#rball)"/></g>
<circle cx="576.4" cy="264.0" r="21.0" fill="none" stroke="#a2e264" stroke-width="1.1"/>
<clipPath id="bc4"><circle cx="625.2" cy="290.9" r="21.3"/></clipPath>
<g clip-path="url(#bc4)"><rect x="603.9000000000001" y="269.59999999999997" width="42.6" height="42.6" fill="#fff"/><rect x="603.9000000000001" y="269.59999999999997" width="42.6" height="7.70" fill="url(#dots)"/><rect x="603.9000000000001" y="277.3" width="42.6" height="10.10" fill="#bdbdbd"/><circle cx="599.90" cy="290.20" r="6.3" fill="url(#yball)"/><circle cx="612.30" cy="290.20" r="6.3" fill="url(#yball)"/><circle cx="624.70" cy="290.20" r="6.3" fill="url(#yball)"/><circle cx="637.10" cy="290.20" r="6.3" fill="url(#yball)"/><circle cx="649.50" cy="290.20" r="6.3" fill="url(#yball)"/><circle cx="661.90" cy="290.20" r="6.3" fill="url(#yball)"/><circle cx="674.30" cy="290.20" r="6.3" fill="url(#yball)"/><circle cx="686.70" cy="290.20" r="6.3" fill="url(#yball)"/><circle cx="606.10" cy="300.20" r="6.3" fill="url(#yball)"/><circle cx="618.50" cy="300.20" r="6.3" fill="url(#yball)"/><circle cx="630.90" cy="300.20" r="6.3" fill="url(#yball)"/><circle cx="643.30" cy="300.20" r="6.3" fill="url(#yball)"/><circle cx="655.70" cy="300.20" r="6.3" fill="url(#yball)"/><circle cx="668.10" cy="300.20" r="6.3" fill="url(#yball)"/><circle cx="680.50" cy="300.20" r="6.3" fill="url(#yball)"/><circle cx="692.90" cy="300.20" r="6.3" fill="url(#yball)"/><circle cx="599.90" cy="309.60" r="6.3" fill="url(#yball)"/><circle cx="612.30" cy="309.60" r="6.3" fill="url(#yball)"/><circle cx="624.70" cy="309.60" r="6.3" fill="url(#yball)"/><circle cx="637.10" cy="309.60" r="6.3" fill="url(#yball)"/><circle cx="649.50" cy="309.60" r="6.3" fill="url(#yball)"/><circle cx="661.90" cy="309.60" r="6.3" fill="url(#yball)"/><circle cx="674.30" cy="309.60" r="6.3" fill="url(#yball)"/><circle cx="686.70" cy="309.60" r="6.3" fill="url(#yball)"/></g>
<circle cx="625.2" cy="290.9" r="21.3" fill="none" stroke="#a2e264" stroke-width="1.1"/>
<path d="M606,277.4 H651 M606,280.4 H651" stroke="#e83a3a" stroke-width="0.9" stroke-dasharray="2.2,1.6"/>
<path d="M631,258.8 L649.4,270.5 L649.4,276.5 M649.4,287.5 L649.4,281" stroke="#111" stroke-width="0.7" fill="none"/>
<path d="M647.9,274.2 L649.4,277.3 L650.9,274.2 Z M647.9,283.5 L649.4,280.4 L650.9,283.5 Z" fill="#111"/>
<path d="M435.5,334 L429.8,342.5 M400.8,372.3 L397.2,382.5 M554.2,237.5 L557.8,255.5" stroke="#222" stroke-width="0.7" fill="none"/>
<text x="421.1" y="330.3" font-size="7.2" text-anchor="start" fill="#222" font-family='"Liberation Serif", serif' font-weight="bold" textLength="29.2" lengthAdjust="spacingAndGlyphs" stroke="#222" stroke-width="0.28">Separator</text>
<text x="384.0" y="390.1" font-size="7.2" text-anchor="start" fill="#222" font-family='"Liberation Serif", serif' font-weight="bold" textLength="26.0" lengthAdjust="spacingAndGlyphs" stroke="#222" stroke-width="0.28">Graphite</text>
<text x="534.0" y="235.8" font-size="7.2" text-anchor="start" fill="#222" font-family='"Liberation Serif", serif' font-weight="bold" textLength="40.9" lengthAdjust="spacingAndGlyphs" stroke="#222" stroke-width="0.28">Plated lithium</text>
<text x="613.0" y="248.1" font-size="7.2" text-anchor="start" fill="#222" font-family='"Liberation Serif", serif' font-weight="bold" textLength="30.6" lengthAdjust="spacingAndGlyphs" stroke="#222" stroke-width="0.28">Reversible</text>
<text x="613.0" y="256.1" font-size="7.2" text-anchor="start" fill="#222" font-family='"Liberation Serif", serif' font-weight="bold" textLength="21.2" lengthAdjust="spacingAndGlyphs" stroke="#222" stroke-width="0.28">lithium</text>
<path d="M381.70,410.30 C383.37,409.40 388.08,406.57 391.70,404.90 C395.32,403.23 399.52,401.82 403.40,400.30 C407.28,398.78 412.08,396.92 415.00,395.80 C417.92,394.68 417.97,394.65 420.90,393.60 C423.83,392.55 429.42,390.43 432.60,389.50 C435.78,388.57 437.77,388.37 440.00,388.00 C442.23,387.63 443.77,387.42 446.00,387.30 C448.23,387.18 448.57,387.58 453.40,387.30 C458.23,387.02 467.50,386.38 475.00,385.60 C482.50,384.82 490.90,383.65 498.40,382.60 C505.90,381.55 513.47,380.48 520.00,379.30 C526.53,378.12 531.60,377.08 537.60,375.50 C543.60,373.92 549.77,371.78 556.00,369.80 C562.23,367.82 569.33,365.50 575.00,363.60 C580.67,361.70 584.77,360.13 590.00,358.40 C595.23,356.67 603.67,354.07 606.40,353.20" stroke="#2c70ee" stroke-width="2.1" fill="none" stroke-linecap="round"/>
<path d="M381.70,410.30 C383.37,409.40 388.08,406.57 391.70,404.90 C395.32,403.23 399.52,401.82 403.40,400.30 C407.28,398.78 412.08,396.92 415.00,395.80 C417.92,394.68 417.97,394.65 420.90,393.60 C423.83,392.55 429.42,390.43 432.60,389.50 C435.78,388.57 437.77,388.37 440.00,388.00 C442.23,387.63 443.77,387.42 446.00,387.30 C448.23,387.18 448.57,387.67 453.40,387.30 C458.23,386.93 467.50,386.05 475.00,385.10 C482.50,384.15 490.90,382.87 498.40,381.60 C505.90,380.33 513.47,378.78 520.00,377.50 C526.53,376.22 531.60,375.42 537.60,373.90 C543.60,372.38 549.77,370.37 556.00,368.40 C562.23,366.43 569.33,363.90 575.00,362.10 C580.67,360.30 584.77,359.03 590.00,357.60 C595.23,356.17 603.67,354.18 606.40,353.50" stroke="#f62c12" stroke-width="2.1" fill="none" stroke-linecap="round"/>
<path d="M381.70,410.30 C383.37,409.43 388.08,406.70 391.70,405.10 C395.32,403.50 399.52,402.12 403.40,400.70 C407.28,399.28 411.12,397.87 415.00,396.60 C418.88,395.33 422.80,394.17 426.70,393.10 C430.60,392.03 435.18,390.95 438.40,390.20 C441.62,389.45 443.50,389.05 446.00,388.60 C448.50,388.15 448.57,388.18 453.40,387.50 C458.23,386.82 467.50,385.77 475.00,384.50 C482.50,383.23 490.90,381.45 498.40,379.90 C505.90,378.35 513.47,376.80 520.00,375.20 C526.53,373.60 531.60,371.97 537.60,370.30 C543.60,368.63 549.77,367.02 556.00,365.20 C562.23,363.38 569.33,360.93 575.00,359.40 C580.67,357.87 584.77,357.13 590.00,356.00 C595.23,354.87 603.67,353.17 606.40,352.60" stroke="#efcc36" stroke-width="2.1" fill="none" stroke-linecap="round"/>
<path d="M381.70,410.30 C383.37,409.43 388.08,406.70 391.70,405.10 C395.32,403.50 399.52,402.12 403.40,400.70 C407.28,399.28 411.12,397.87 415.00,396.60 C418.88,395.33 422.80,394.17 426.70,393.10 C430.60,392.03 435.18,390.92 438.40,390.20 C441.62,389.48 443.50,389.22 446.00,388.80 C448.50,388.38 450.50,388.18 453.40,387.70 C456.30,387.22 459.80,386.62 463.40,385.90 C467.00,385.18 471.12,384.32 475.00,383.40 C478.88,382.48 482.80,381.57 486.70,380.40 C490.60,379.23 494.52,377.95 498.40,376.40 C502.28,374.85 506.07,373.48 510.00,371.10 C513.93,368.72 518.35,365.25 522.00,362.10 C525.65,358.95 528.90,355.80 531.90,352.20 C534.90,348.60 537.15,344.42 540.00,340.50 C542.85,336.58 545.98,331.87 549.00,328.70 C552.02,325.53 555.08,323.20 558.10,321.50 C561.12,319.80 564.28,319.10 567.10,318.50 C569.92,317.90 572.82,317.87 575.00,317.90 C577.18,317.93 578.13,317.52 580.20,318.70 C582.27,319.88 585.30,322.13 587.40,325.00 C589.50,327.87 591.15,332.92 592.80,335.90 C594.45,338.88 595.80,341.62 597.30,342.90 C598.80,344.18 600.13,343.63 601.80,343.60 C603.47,343.57 606.38,342.85 607.30,342.70" stroke="#7012aa" stroke-width="2.1" fill="none" stroke-linecap="round"/>
<path d="M381.70,410.30 C383.37,409.43 388.08,406.70 391.70,405.10 C395.32,403.50 399.52,402.12 403.40,400.70 C407.28,399.28 411.12,397.87 415.00,396.60 C418.88,395.33 422.80,394.17 426.70,393.10 C430.60,392.03 435.18,390.95 438.40,390.20 C441.62,389.45 443.50,389.07 446.00,388.60 C448.50,388.13 450.50,388.12 453.40,387.40 C456.30,386.68 459.80,385.55 463.40,384.30 C467.00,383.05 471.12,381.72 475.00,379.90 C478.88,378.08 483.28,375.78 486.70,373.40 C490.12,371.02 492.62,368.53 495.50,365.60 C498.38,362.67 501.08,359.30 504.00,355.80 C506.92,352.30 510.00,348.37 513.00,344.60 C516.00,340.83 518.85,336.75 522.00,333.20 C525.15,329.65 528.90,326.45 531.90,323.30 C534.90,320.15 537.15,317.15 540.00,314.30 C542.85,311.45 545.98,308.45 549.00,306.20 C552.02,303.95 555.08,302.15 558.10,300.80 C561.12,299.45 564.28,298.63 567.10,298.10 C569.92,297.57 572.52,297.35 575.00,297.60 C577.48,297.85 579.63,298.03 582.00,299.60 C584.37,301.17 587.10,303.97 589.20,307.00 C591.30,310.03 593.10,315.00 594.60,317.80 C596.10,320.60 597.00,322.60 598.20,323.80 C599.40,325.00 600.28,324.93 601.80,325.00 C603.32,325.07 605.78,324.35 607.30,324.20 C608.82,324.05 610.30,324.12 610.90,324.10" stroke="#82e02c" stroke-width="2.1" fill="none" stroke-linecap="round"/>
<path d="M381.7,228 V410.7 H622" stroke="#111" stroke-width="1.3" fill="none"/>
<path d="M381.7,410.7 h3 M381.7,374.2 h3 M381.7,337.7 h3 M381.7,301.2 h3 M381.7,264.7 h3 M381.7,228.2 h3 M421.5,410.7 v-3 M461.3,410.7 v-3 M501.1,410.7 v-3 M540.9,410.7 v-3 M580.7,410.7 v-3 M620.5,410.7 v-3" stroke="#111" stroke-width="1.1" fill="none"/>
<text x="377.9" y="414.5" font-size="11.2" text-anchor="end" fill="#111" font-family='"Liberation Serif", serif' font-weight="bold" textLength="14.5" lengthAdjust="spacingAndGlyphs" >0.0</text>
<text x="377.9" y="378.0" font-size="11.2" text-anchor="end" fill="#111" font-family='"Liberation Serif", serif' font-weight="bold" textLength="14.5" lengthAdjust="spacingAndGlyphs" >1.0</text>
<text x="377.9" y="341.5" font-size="11.2" text-anchor="end" fill="#111" font-family='"Liberation Serif", serif' font-weight="bold" textLength="14.5" lengthAdjust="spacingAndGlyphs" >2.0</text>
<text x="377.9" y="305.0" font-size="11.2" text-anchor="end" fill="#111" font-family='"Liberation Serif", serif' font-weight="bold" textLength="14.5" lengthAdjust="spacingAndGlyphs" >3.0</text>
<text x="377.9" y="268.5" font-size="11.2" text-anchor="end" fill="#111" font-family='"Liberation Serif", serif' font-weight="bold" textLength="14.5" lengthAdjust="spacingAndGlyphs" >4.0</text>
<text x="377.9" y="232.0" font-size="11.2" text-anchor="end" fill="#111" font-family='"Liberation Serif", serif' font-weight="bold" textLength="14.5" lengthAdjust="spacingAndGlyphs" >5.0</text>
<text x="381.7" y="425.6" font-size="11.2" text-anchor="middle" fill="#111" font-family='"Liberation Serif", serif' font-weight="bold" textLength="5.6" lengthAdjust="spacingAndGlyphs" >0</text>
<text x="421.5" y="425.6" font-size="11.2" text-anchor="middle" fill="#111" font-family='"Liberation Serif", serif' font-weight="bold" textLength="14.5" lengthAdjust="spacingAndGlyphs" >0.2</text>
<text x="461.29999999999995" y="425.6" font-size="11.2" text-anchor="middle" fill="#111" font-family='"Liberation Serif", serif' font-weight="bold" textLength="14.5" lengthAdjust="spacingAndGlyphs" >0.4</text>
<text x="501.1" y="425.6" font-size="11.2" text-anchor="middle" fill="#111" font-family='"Liberation Serif", serif' font-weight="bold" textLength="14.5" lengthAdjust="spacingAndGlyphs" >0.6</text>
<text x="540.9" y="425.6" font-size="11.2" text-anchor="middle" fill="#111" font-family='"Liberation Serif", serif' font-weight="bold" textLength="14.5" lengthAdjust="spacingAndGlyphs" >0.8</text>
<text x="580.7" y="425.6" font-size="11.2" text-anchor="middle" fill="#111" font-family='"Liberation Serif", serif' font-weight="bold" textLength="5.6" lengthAdjust="spacingAndGlyphs" >1</text>
<text x="620.5" y="425.6" font-size="11.2" text-anchor="middle" fill="#111" font-family='"Liberation Serif", serif' font-weight="bold" textLength="14.5" lengthAdjust="spacingAndGlyphs" >1.2</text>
<text x="501.3" y="440.1" font-size="12.2" text-anchor="middle" fill="#111" font-family='"Liberation Serif", serif' font-weight="bold" textLength="73" lengthAdjust="spacingAndGlyphs" >Capacity / Ah</text>
<text x="0" y="0" transform="translate(358.6,319.3) rotate(-90)" font-size="12.4" text-anchor="middle" fill="#111" font-family='"Liberation Serif", serif' font-weight="bold" textLength="113.4" lengthAdjust="spacingAndGlyphs">Expansion Ratio / %</text>
<path d="M390,241.9 H411.6" stroke="#2c70ee" stroke-width="2.1"/>
<text x="413.5" y="246.1" font-size="11.4" text-anchor="start" fill="#111" font-family='"Liberation Serif", serif' font-weight="bold" textLength="23.6" lengthAdjust="spacingAndGlyphs" >1/5C</text>
<path d="M390,256.0 H411.6" stroke="#f62c12" stroke-width="2.1"/>
<text x="413.5" y="260.18" font-size="11.4" text-anchor="start" fill="#111" font-family='"Liberation Serif", serif' font-weight="bold" textLength="23.6" lengthAdjust="spacingAndGlyphs" >1/3C</text>
<path d="M390,270.1 H411.6" stroke="#efcc36" stroke-width="2.1"/>
<text x="413.5" y="274.26" font-size="11.4" text-anchor="start" fill="#111" font-family='"Liberation Serif", serif' font-weight="bold" textLength="14.8" lengthAdjust="spacingAndGlyphs" >1C</text>
<path d="M390,284.1 H411.6" stroke="#7012aa" stroke-width="2.1"/>
<text x="413.5" y="288.34" font-size="11.4" text-anchor="start" fill="#111" font-family='"Liberation Serif", serif' font-weight="bold" textLength="23.6" lengthAdjust="spacingAndGlyphs" >3/2C</text>
<path d="M390,298.2 H411.6" stroke="#82e02c" stroke-width="2.1"/>
<text x="413.5" y="302.42" font-size="11.4" text-anchor="start" fill="#111" font-family='"Liberation Serif", serif' font-weight="bold" textLength="14.8" lengthAdjust="spacingAndGlyphs" >2C</text>
<text x="326.7" y="230.2" font-size="15.5" text-anchor="start" fill="#111" font-family='"Liberation Sans", sans-serif' font-weight="bold" textLength="6.4" lengthAdjust="spacingAndGlyphs" stroke="#111" stroke-width="0.5">c</text></svg></body></html>
